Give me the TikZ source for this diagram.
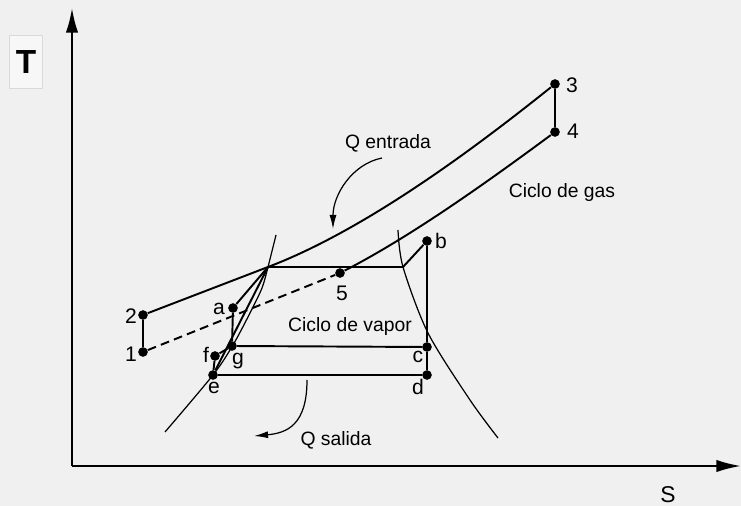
\documentclass[tikz,border=0pt]{standalone}
\usepackage{fontspec}
\setmainfont{Liberation Sans}
\usetikzlibrary{arrows.meta,positioning,calc}

\begin{document}
\begin{tikzpicture}[x=0.02cm,y=-0.02cm,>=Latex,
  axis/.style={line width=1.2pt,-{Latex[length=14pt,width=7pt]}},
  cyc/.style={line width=1.1pt},
  sat/.style={line width=0.7pt},
  qarrow/.style={line width=0.7pt,-{Latex[length=8pt,width=4pt]}},
  pt/.style={circle,fill,inner sep=0pt,minimum size=5.5pt},
  lbl/.style={inner sep=1pt,font=\fontsize{12}{14}\selectfont},
  txt/.style={inner sep=1pt,font=\fontsize{11}{13}\selectfont}]
\fill[black!6] (0,0) rectangle (741,506);
\useasboundingbox (0,0) rectangle (741,506);

% axes
\coordinate (o) at (72,466);
\coordinate (tend) at (72,8);
\coordinate (send) at (741,466);
\draw[axis] (o) -- (tend);
\draw[axis] (o) -- (send);
\node[draw=black!15,fill=black!3,minimum width=0.66cm,minimum height=1.06cm,
  font=\fontsize{19}{22}\selectfont\bfseries] (tlab) at (26,62) {T};
\node[font=\fontsize{13}{15}\selectfont] (slab) at (668,495) {S};

% state points
\node[pt] (p1) at (143,352) {};
\node[pt] (p2) at (143,315) {};
\node[pt] (p3) at (555,84) {};
\node[pt] (p4) at (555,132) {};
\node[pt] (p5) at (340,273) {};
\node[pt] (pa) at (233,308) {};
\node[pt] (pb) at (427,241) {};
\node[pt] (pc) at (427,347) {};
\node[pt] (pd) at (427,375) {};
\node[pt] (pe) at (213,375) {};
\node[pt] (pf) at (215,356) {};
\node[pt] (pg) at (232,346) {};
\coordinate (px) at (268,267);
\coordinate (pk) at (403,267);

% saturation dome
\draw[sat] plot[smooth] coordinates {(165,432) (pe) (233,345) (250,313) (262,288) (px) (276,235)};
\draw[sat] plot[smooth] coordinates {(398,230) (pk) (428,333) (470,400) (498,438)};

% gas cycle
\draw[cyc] (p1) -- (p2);
\draw[cyc] (p2) -- (px) .. controls (368,229) and (480,144) .. (p3);
\draw[cyc] (p3) -- (p4);
\draw[cyc] (p5) .. controls (412,236) and (490,180) .. (p4);
\draw[cyc,dashed,dash pattern=on 5pt off 3pt] (p1) -- (p5);

% vapour cycle
\draw[cyc] (px) -- (pk) -- (pb);
\draw[cyc] (pb) -- (pc) -- (pd);
\draw[cyc] (pg) -- (pc);
\draw[cyc] (pe) -- (pd);
\draw[cyc] (pa) -- (pg);
\draw[cyc] (pa) -- (px);
\draw[cyc] (pe) -- (pf) -- (pg);
\draw[cyc] (pe) -- (px);

% labels
\node[lbl] (l1) at (131,354) {1};
\node[lbl] (l2) at (131,316) {2};
\node[lbl] (l3) at (572,85) {3};
\node[lbl] (l4) at (573,131) {4};
\node[lbl] (l5) at (342,293) {5};
\node[lbl] (la) at (219,309) {a};
\node[lbl] (lb) at (441,241) {b};
\node[lbl] (lc) at (418,357) {c};
\node[lbl] (ld) at (418,387) {d};
\node[lbl] (le) at (214,388) {e};
\node[lbl] (lf) at (206,355) {f};
\node[lbl] (lg) at (238,361) {g};

\node[txt] (qin) at (388,143) {Q entrada};
\node[txt] (gas) at (562,193) {Ciclo de gas};
\node[txt] (vap) at (350,327) {Ciclo de vapor};
\node[txt] (qout) at (336,440) {Q salida};

\coordinate (qin0) at (382,158);
\coordinate (qin1) at (333,229);
\coordinate (qout0) at (307,380);
\coordinate (qout1) at (254,436);
\draw[qarrow] (qin0) .. controls (352,164) and (333,195) .. (qin1);
\draw[qarrow] (qout0) .. controls (307,425) and (287,433) .. (qout1);
\end{tikzpicture}
\end{document}
